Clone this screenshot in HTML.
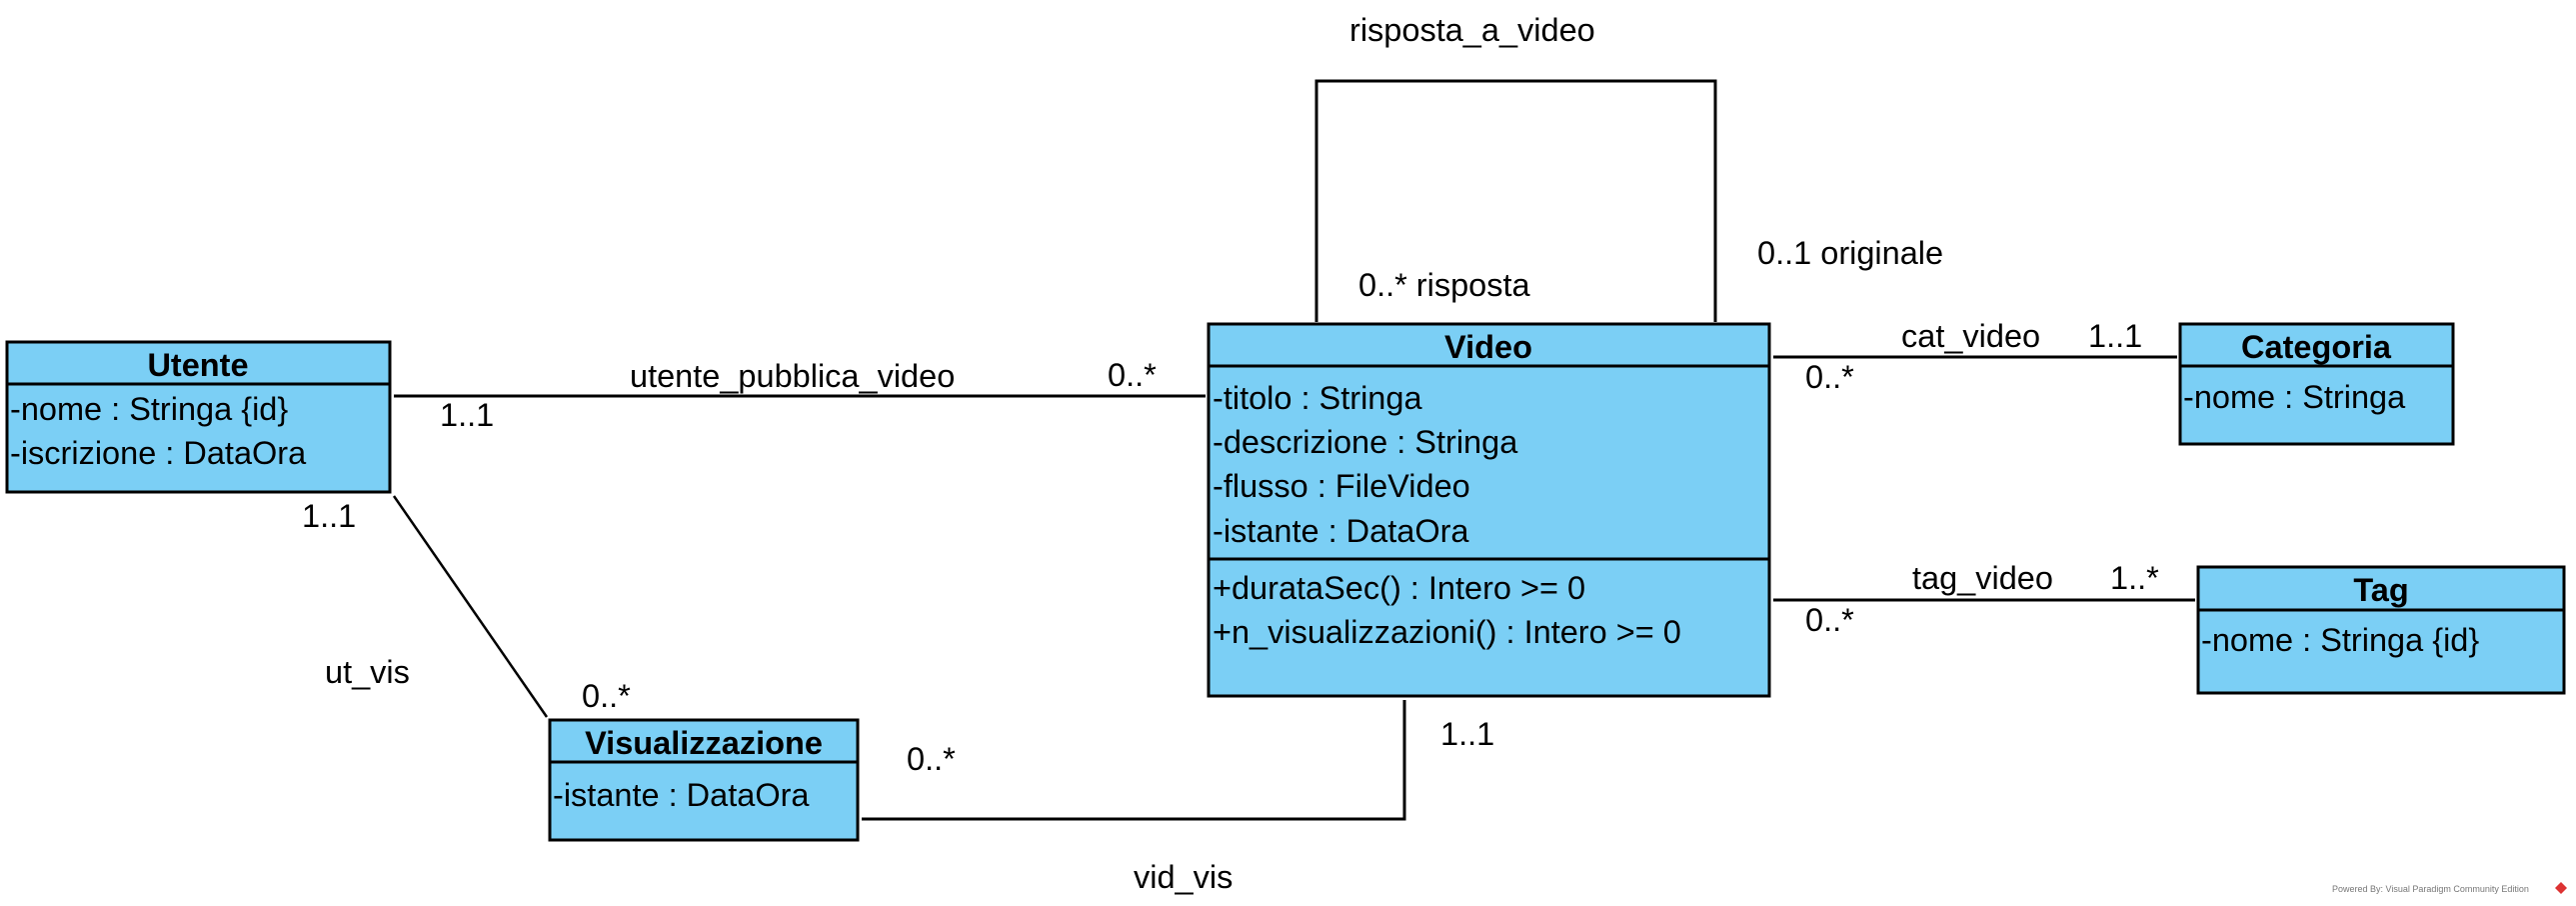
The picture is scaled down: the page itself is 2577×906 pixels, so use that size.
<!DOCTYPE html>
<html><head><meta charset="utf-8"><style>
html,body{margin:0;padding:0;background:#fff;width:2577px;height:906px;overflow:hidden}
svg text{font-family:"Liberation Sans",Arial,sans-serif;font-size:32.5px;fill:#000}
.b{font-weight:bold}
</style></head><body>
<svg width="2577" height="906" viewBox="0 0 2577 906" xmlns="http://www.w3.org/2000/svg">
<g fill="#7BCFF5" stroke="#000" stroke-width="3">
<rect x="7" y="342" width="383" height="150"/>
<rect x="550" y="720" width="308" height="120"/>
<rect x="1209" y="324" width="561" height="372"/>
<rect x="2181" y="324" width="273" height="120"/>
<rect x="2199" y="567" width="366" height="126"/>
</g>
<g stroke="#000" stroke-width="3" fill="none">
<line x1="7" y1="384" x2="390" y2="384"/>
<line x1="550" y1="762" x2="858" y2="762"/>
<line x1="1209" y1="366" x2="1770" y2="366"/>
<line x1="1209" y1="559" x2="1770" y2="559"/>
<line x1="2181" y1="366" x2="2454" y2="366"/>
<line x1="2199" y1="610" x2="2565" y2="610"/>
<line x1="394" y1="396" x2="1206" y2="396"/>
<polyline points="862,819 1405,819 1405,700"/>
<polyline points="1317,322 1317,81 1716,81 1716,322"/>
<line x1="1774" y1="357" x2="2178" y2="357"/>
<line x1="1774" y1="600" x2="2196" y2="600"/>
<line x1="394" y1="496" x2="547" y2="717" stroke-width="2.5"/>
</g>
<text class="b" x="198" y="376" text-anchor="middle">Utente</text>
<text x="10" y="420">-nome : Stringa {id}</text>
<text x="10" y="464">-iscrizione : DataOra</text>
<text class="b" x="704" y="754" text-anchor="middle">Visualizzazione</text>
<text x="553" y="806">-istante : DataOra</text>
<text class="b" x="1489" y="358" text-anchor="middle">Video</text>
<text x="1213" y="409">-titolo : Stringa</text>
<text x="1213" y="453">-descrizione : Stringa</text>
<text x="1213" y="497">-flusso : FileVideo</text>
<text x="1213" y="542">-istante : DataOra</text>
<text x="1213" y="599">+durataSec() : Intero &gt;= 0</text>
<text x="1213" y="643">+n_visualizzazioni() : Intero &gt;= 0</text>
<text class="b" x="2317" y="358" text-anchor="middle">Categoria</text>
<text x="2184" y="408">-nome : Stringa</text>
<text class="b" x="2382" y="601" text-anchor="middle">Tag</text>
<text x="2202" y="651">-nome : Stringa {id}</text>
<text x="630" y="387">utente_pubblica_video</text>
<text x="1108" y="386">0..*</text>
<text x="440" y="426">1..1</text>
<text x="302" y="527">1..1</text>
<text x="325" y="683">ut_vis</text>
<text x="582" y="707">0..*</text>
<text x="907" y="770">0..*</text>
<text x="1134" y="888">vid_vis</text>
<text x="1441" y="745">1..1</text>
<text x="1350" y="41">risposta_a_video</text>
<text x="1758" y="264">0..1 originale</text>
<text x="1359" y="296">0..* risposta</text>
<text x="1902" y="347">cat_video</text>
<text x="2089" y="347">1..1</text>
<text x="1806" y="388">0..*</text>
<text x="1913" y="589">tag_video</text>
<text x="2111" y="589">1..*</text>
<text x="1806" y="631">0..*</text>
<text x="2333" y="892" style="font-size:9px;fill:#777">Powered By: Visual Paradigm Community Edition</text>
<polygon points="2562,882 2568,888 2562,894 2556,888" fill="#d33"/>
</svg>
</body></html>
